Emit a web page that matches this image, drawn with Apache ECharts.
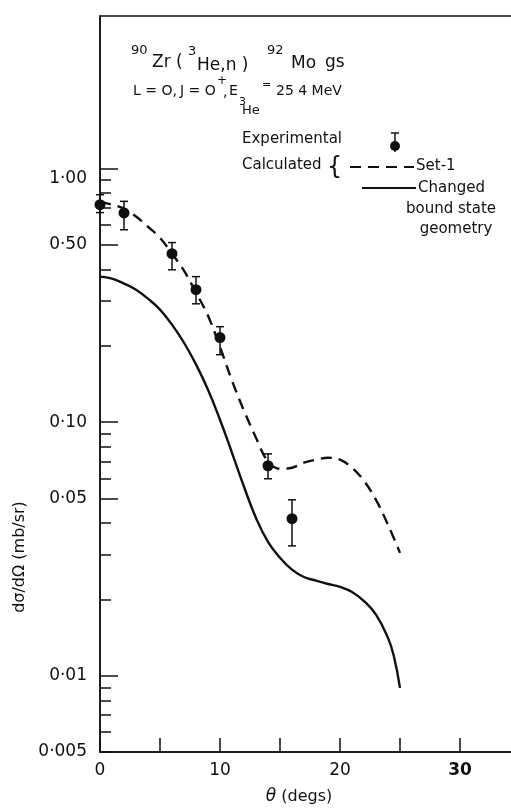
<!DOCTYPE html>
<html>
<head>
<meta charset="utf-8">
<script src="https://cdn.jsdelivr.net/npm/echarts@6/dist/echarts.min.js"></script>
<style>
  html, body { margin: 0; padding: 0; background: #fff; }
  #chart { width: 511px; height: 812px; }
</style>
</head>
<body>
<div id="chart"></div>
<script>
// Measured cross sections, 90Zr(3He,n)92Mo ground state
const thetaExp = [0, 2, 6, 8, 10, 14, 16];
const sigmaExp = [0.721, 0.669, 0.462, 0.333, 0.2155, 0.0673, 0.0416];
const errLow   = [0.671, 0.574, 0.399, 0.293, 0.1845, 0.0598, 0.0325];
const errHigh  = [0.789, 0.743, 0.511, 0.375, 0.238, 0.075, 0.0494];

// DWBA calculation, parameter Set-1 (dashed)
const thetaSet1 = [0, 1, 2, 3, 4, 5, 6, 7, 8, 9, 10, 11, 12, 13, 14, 15, 16, 17, 18, 19, 20, 21, 22, 23, 24, 25];
const sigmaSet1 = [0.741, 0.721, 0.695, 0.647, 0.590, 0.534, 0.462, 0.396, 0.324, 0.263, 0.198, 0.1457, 0.1109, 0.0868, 0.0698,
                   0.0655, 0.0661, 0.0692, 0.0711, 0.0724, 0.0711, 0.0661, 0.0587, 0.0494, 0.0394, 0.0305];

// Calculation with changed bound state geometry (solid)
const thetaChanged = [0, 1, 2, 3, 4, 5, 6, 7, 8, 9, 10, 11, 12, 13, 14, 15, 16, 17, 18, 19, 20, 21, 22, 23, 24, 24.5, 25];
const sigmaChanged = [0.375, 0.368, 0.352, 0.333, 0.307, 0.278, 0.2424, 0.2057, 0.169, 0.1342, 0.1022, 0.0757, 0.0556, 0.0419,
                      0.0337, 0.0292, 0.0262, 0.0245, 0.0237, 0.0230, 0.0224, 0.0214, 0.0197, 0.0174, 0.0141, 0.01187, 0.00895];

// Axis ticks
const yLabelValues = [0.005, 0.01, 0.05, 0.1, 0.5, 1];
const yLabelTexts  = ['0·005', '0·01', '0·05', '0·10', '0·50', '1·00'];
const yMinorTicks  = [0.005, 0.006, 0.007, 0.008, 0.009, 0.01, 0.02, 0.03, 0.04, 0.05, 0.06, 0.07, 0.08, 0.09,
                      0.1, 0.2, 0.3, 0.4, 0.5, 0.6, 0.7, 0.8, 0.9, 1];
const yMajorTicks  = [0.01, 0.05, 0.1, 0.5, 1];
const xLabelValues = [0, 10, 20, 30];

const FONT = '"DejaVu Sans", sans-serif';
const INK = '#111';

const chart = echarts.init(document.getElementById('chart'), null, { renderer: 'canvas' });

function yLabel(v) {
  for (let i = 0; i < yLabelValues.length; i++) {
    if (Math.abs(v - yLabelValues[i]) < yLabelValues[i] * 1e-6) {
      return i === yLabelValues.length - 1 ? '{low|' + yLabelTexts[i] + '}' : yLabelTexts[i];
    }
  }
  return '';
}

function errorBarItem(params, api) {
  const x = api.value(0);
  const lo = api.coord([x, api.value(1)]);
  const hi = api.coord([x, api.value(2)]);
  const cap = 4;
  const st = { stroke: INK, lineWidth: 1.5 };
  return {
    type: 'group',
    children: [
      { type: 'line', shape: { x1: lo[0], y1: lo[1], x2: hi[0], y2: hi[1] }, style: st },
      { type: 'line', shape: { x1: lo[0] - cap, y1: lo[1], x2: lo[0] + cap, y2: lo[1] }, style: st },
      { type: 'line', shape: { x1: hi[0] - cap, y1: hi[1], x2: hi[0] + cap, y2: hi[1] }, style: st }
    ]
  };
}

const text = (str, x, y, size, extra) => ({
  type: 'text', x: x, y: y, silent: true,
  style: Object.assign({ text: str, font: size + 'px ' + FONT, fill: INK, align: 'left', verticalAlign: 'middle' }, extra || {})
});

const option = {
  backgroundColor: '#fff',
  animation: false,
  grid: {
    left: 100, top: 16, width: 420, bottom: 60, outerBoundsMode: 'none', containLabel: false,
    show: true, borderColor: INK, borderWidth: 1.5, backgroundColor: 'transparent'
  },
  xAxis: {
    type: 'value', min: 0, max: 35, interval: 5,
    axisLine: { lineStyle: { color: INK, width: 1.5 } },
    axisTick: { inside: true, length: 14, lineStyle: { color: INK, width: 1.5 } },
    splitLine: { show: false },
    axisLabel: {
      margin: 10, color: INK, fontFamily: FONT, fontSize: 17,
      formatter: v => (xLabelValues.indexOf(v) < 0 ? '' : (v === 30 ? '{b|30}' : String(v))),
      rich: { b: { fontFamily: FONT, fontSize: 17, fontWeight: 'bold', color: INK } }
    }
  },
  yAxis: [
    {
      type: 'log', logBase: 10, min: 0.005, max: 4,
      axisLine: { show: true, lineStyle: { color: INK, width: 1.5 } },
      axisTick: { show: true, inside: true, length: 11, customValues: yMinorTicks, lineStyle: { color: INK, width: 1.5 } },
      minorTick: { show: false },
      splitLine: { show: false },
      axisLabel: {
        margin: 13, color: INK, fontFamily: FONT, fontSize: 17,
        customValues: yLabelValues,
        formatter: yLabel,
        rich: { low: { fontFamily: FONT, fontSize: 17, color: INK, padding: [20, 0, 0, 0] } }
      }
    },
    {
      type: 'log', logBase: 10, min: 0.005, max: 4, position: 'left',
      axisLine: { show: false },
      axisTick: { show: true, inside: true, length: 18, customValues: yMajorTicks, lineStyle: { color: INK, width: 1.5 } },
      splitLine: { show: false },
      axisLabel: { show: false }
    }
  ],
  series: [
    {
      name: 'Set-1', type: 'line', smooth: 0.35, symbol: 'none',
      data: thetaSet1.map((t, i) => [t, sigmaSet1[i]]),
      lineStyle: { color: INK, width: 2.4, type: [11, 7] }
    },
    {
      name: 'Changed bound state geometry', type: 'line', smooth: 0.45, symbol: 'none',
      data: thetaChanged.map((t, i) => [t, sigmaChanged[i]]),
      lineStyle: { color: INK, width: 2.4 }
    },
    {
      name: 'Experimental errors', type: 'custom', renderItem: errorBarItem, clip: false, z: 3,
      data: thetaExp.map((t, i) => [t, errLow[i], errHigh[i]])
    },
    {
      name: 'Experimental', type: 'scatter', symbol: 'circle', symbolSize: 11, clip: false, z: 4,
      data: thetaExp.map((t, i) => [t, sigmaExp[i]]),
      itemStyle: { color: INK, opacity: 1 }
    }
  ],
  graphic: [
    // reaction title
    text('90', 131, 51, 13),
    text('Zr (', 152, 63, 17),
    text('3', 188, 52, 13),
    text('He,n )', 197, 66, 17),
    text('92', 267, 51, 13),
    text('Mo', 291, 64, 17),
    text('gs', 325, 63, 17),
    // quantum numbers and beam energy
    text('L = O,', 133, 91, 14),
    text('J = O', 180, 91, 14),
    text('+', 217, 81, 12),
    text(',', 223, 92, 14),
    text('E', 229, 91, 14),
    text('3', 239, 102, 11),
    text('He', 242, 111, 13),
    text('=', 262, 85, 11),
    text('25 4 MeV', 276, 91, 14),
    // key
    text('Experimental', 242, 139, 15),
    { type: 'line', silent: true, shape: { x1: 395, y1: 133, x2: 395, y2: 152 }, style: { stroke: INK, lineWidth: 1.5 } },
    { type: 'line', silent: true, shape: { x1: 391, y1: 133, x2: 399, y2: 133 }, style: { stroke: INK, lineWidth: 1.5 } },
    { type: 'circle', silent: true, shape: { cx: 395, cy: 146, r: 5 }, style: { fill: INK } },
    text('Calculated', 242, 165, 15),
    text('{', 327, 168, 24),
    { type: 'line', silent: true, shape: { x1: 350, y1: 167, x2: 414, y2: 167 }, style: { stroke: INK, lineWidth: 2, lineDash: [11, 7] } },
    text('Set-1', 416, 166, 15),
    { type: 'line', silent: true, shape: { x1: 362, y1: 188, x2: 416, y2: 188 }, style: { stroke: INK, lineWidth: 2 } },
    text('Changed', 418, 188, 15),
    text('bound state', 451, 209, 15, { align: 'center' }),
    text('geometry', 456, 229, 15, { align: 'center' }),
    // axis titles
    {
      type: 'text', x: 299, y: 797, silent: true,
      style: {
        text: '{i|θ} (degs)', align: 'center', verticalAlign: 'middle', fill: INK, font: '16px ' + FONT,
        rich: { i: { fontFamily: FONT, fontSize: 17, fontStyle: 'italic', fill: INK, color: INK } }
      }
    },
    {
      type: 'text', x: 20, y: 557, rotation: Math.PI / 2, silent: true,
      style: { text: 'dσ/dΩ (mb/sr)', align: 'center', verticalAlign: 'middle', fill: INK, font: '16px ' + FONT }
    }
  ]
};

chart.setOption(option);
</script>
</body>
</html>
